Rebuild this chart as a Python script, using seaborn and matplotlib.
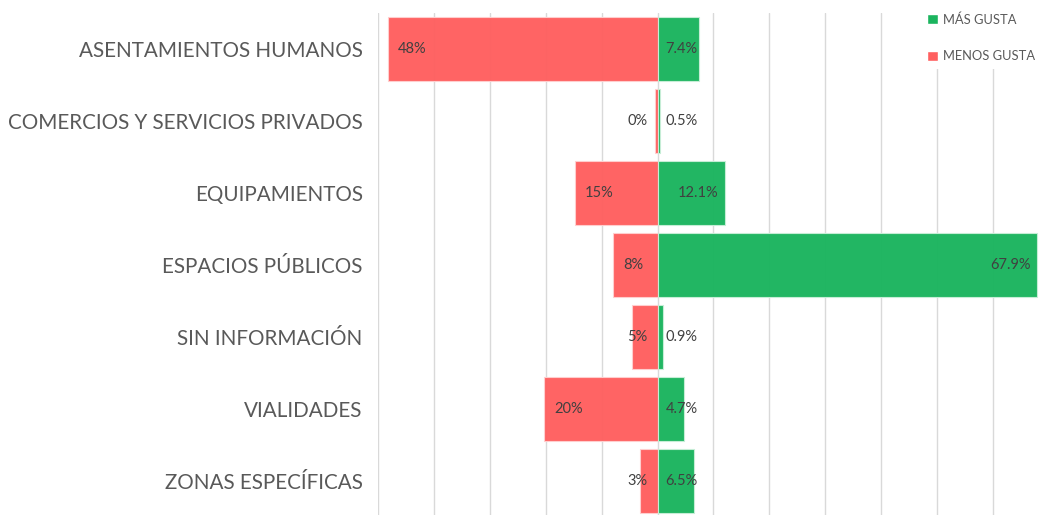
import pandas as pd
import numpy as np
import matplotlib
matplotlib.use('Agg')
import matplotlib.pyplot as plt
import seaborn as sns
from matplotlib.patches import Patch

# datos
categorias = ['ASENTAMIENTOS HUMANOS', 'COMERCIOS Y SERVICIOS PRIVADOS', 'EQUIPAMIENTOS',
              'ESPACIOS PÚBLICOS', 'SIN INFORMACIÓN', 'VIALIDADES', 'ZONAS ESPECÍFICAS']
mas_gusta = [7.4, 0.5, 12.1, 67.9, 0.9, 4.7, 6.5]
menos_gusta = [48.2, 0.4, 14.8, 7.9, 4.6, 20.3, 3.2]

verde = '#1BB45E'
rojo = '#FF5F5F'

sns.set_style('white')
plt.rcParams['font.family'] = ['Lato', 'DejaVu Sans']

df = pd.DataFrame({'cat': categorias, 'mas': mas_gusta,
                   'menos': [-v for v in menos_gusta]})

fig = plt.figure(figsize=(10.45, 5.15), dpi=100)
ax = fig.add_axes([378 / 1045, -2 / 515, 667 / 1045, 504 / 515])

# cuadrícula vertical cada 10 %
for xg in range(-50, 70, 10):
    ax.axvline(xg, color='#D9D9D9', lw=1, zorder=0)

sns.barplot(data=df, x='menos', y='cat', orient='h', color=rojo, width=0.9, saturation=1,
            edgecolor='#FFD0D0', linewidth=0.8, alpha=0.97, ax=ax, zorder=2)
sns.barplot(data=df, x='mas', y='cat', orient='h', color=verde, width=0.9, saturation=1,
            edgecolor='#C8EED8', linewidth=0.8, alpha=0.97, ax=ax, zorder=2)

# etiquetas de datos
for i, (m, n) in enumerate(zip(mas_gusta, menos_gusta)):
    if n >= 7:
        ax.text(-n + 1.8, i, f'{n:.0f}%', ha='left', va='center', fontsize=10.5, color='#404040', zorder=3)
    else:
        ax.text(-1.8, i, f'{n:.0f}%', ha='right', va='center', fontsize=10.5, color='#404040', zorder=3)
    ax.text(max(m - 1.2, 7.2), i, f'{m:.1f}%', ha='right', va='center', fontsize=10.5,
            color='#404040', zorder=3)

ax.set_xlim(-50, 69.3)
ax.set_ylim(6.5, -0.5)
ax.set_xlabel('')
ax.set_ylabel('')
ax.set_xticks([])
ax.tick_params(axis='y', length=0, pad=11, labelsize=14.9, labelcolor='#595959')
for s in ax.spines.values():
    s.set_visible(False)

handles = [Patch(facecolor=verde, label='MÁS GUSTA'), Patch(facecolor=rojo, label='MENOS GUSTA')]
leg = ax.legend(handles=handles, loc='upper right', bbox_to_anchor=(1.0, 1.02),
                frameon=True, facecolor='white', edgecolor='none', framealpha=1,
                fontsize=9.3, labelspacing=1.9, handlelength=0.85, handleheight=0.85,
                handletextpad=0.35, borderaxespad=0.3, borderpad=0.5)
for t in leg.get_texts():
    t.set_color('#595959')
leg.set_zorder(5)

fig.savefig('out.png', dpi=100)
